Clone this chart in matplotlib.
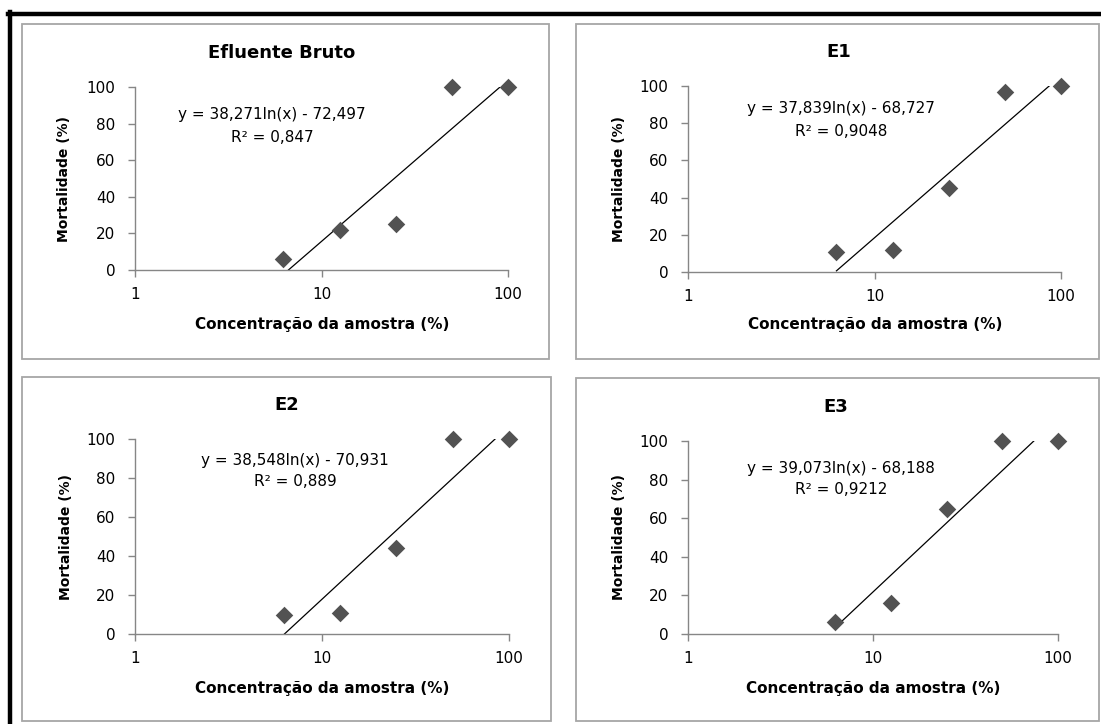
import matplotlib
matplotlib.use("Agg")
import matplotlib.pyplot as plt
from matplotlib.patches import Rectangle
from matplotlib.lines import Line2D
import numpy as np

# --- data ---
conc = [6.25, 12.5, 25, 50, 100]
titles = ["Efluente Bruto", "E1", "E2", "E3"]
mort_bruto = [6, 22, 25, 100, 100]
mort_e1 = [11, 12, 45, 97, 100]
mort_e2 = [10, 11, 44, 100, 100]
mort_e3 = [6, 16, 65, 100, 100]
mortality = [mort_bruto, mort_e1, mort_e2, mort_e3]
# trend line coefficients  y = a*ln(x) + b
slope = [38.271, 37.839, 38.548, 39.073]
intercept = [-72.497, -68.727, -70.931, -68.188]
r2_text = ["0,847", "0,9048", "0,889", "0,9212"]

W, H = 1101, 724
fig = plt.figure(figsize=(W / 100, H / 100), dpi=100)
fig.patch.set_facecolor("white")


def box(l, t, r, b):
    # pixel box -> figure fraction [left, bottom, width, height]
    return [l / W, 1 - b / H, (r - l) / W, (b - t) / H]


def ptext(x, y, s, **kw):
    fig.text(x / W, 1 - y / H, s, ha="center", va="center", **kw)


# outer black frame (top and left only)
fig.add_artist(Line2D([8 / W, 1], [1 - 13.5 / H, 1 - 13.5 / H], color="black", lw=3.2))
fig.add_artist(Line2D([9.5 / W, 9.5 / W], [0, 1 - 12 / H], color="black", lw=3.2))

# panel borders (l, t, r, b) in pixels
panels = [(22, 24, 549, 359), (576, 24, 1099, 359), (22, 377, 551, 721), (576, 378, 1099, 721)]
for l, t, r, b in panels:
    fig.add_artist(Rectangle((l / W, 1 - b / H), (r - l) / W, (b - t) / H,
                             transform=fig.transFigure, fill=False,
                             edgecolor="#a6a6a6", lw=1.3))

# plot areas in pixels
areas = [(135, 87, 508, 270), (688, 86, 1061, 272), (135, 439, 509, 634), (688, 441, 1058, 634)]
eq_pos = [(272, 115), (841, 109), (295, 460), (841, 468)]
title_pos = [(282, 53), (839, 52), (287, 405), (836, 407)]
xlab_pos = [(322, 325), (875, 325), (322, 688), (873, 688)]
ylab_pos = [(64, 179), (619, 179), (66, 537), (619, 537)]

axis_gray = "#868686"
for i in range(4):
    l, t, r, b = areas[i]
    ax = fig.add_axes(box(l, t, r, b))
    ax.set_xscale("log")
    ax.set_xlim(1, 100)
    ax.set_ylim(0, 100)
    ax.set_facecolor("none")
    for s in ["top", "right"]:
        ax.spines[s].set_visible(False)
    for s in ["left", "bottom"]:
        ax.spines[s].set_color(axis_gray)
        ax.spines[s].set_linewidth(1.0)
    ax.set_xticks([1, 10, 100])
    ax.set_xticklabels(["1", "10", "100"])
    ax.xaxis.set_minor_locator(matplotlib.ticker.NullLocator())
    ax.set_yticks([0, 20, 40, 60, 80, 100])
    ax.tick_params(axis="both", direction="out", length=5, width=1.0,
                   color=axis_gray, labelsize=11, labelcolor="black")
    ax.tick_params(axis="x", pad=7)
    ax.tick_params(axis="y", pad=9)

    xs = np.geomspace(conc[0], conc[-1], 200)
    ax.plot(xs, slope[i] * np.log(xs) + intercept[i], color="black", lw=0.9)
    ax.scatter(conc, mortality[i], marker="D", s=80, color="#525252",
               zorder=5, clip_on=False, linewidths=0)

    ptext(*title_pos[i], titles[i], fontsize=13, fontweight="bold")
    ptext(*xlab_pos[i], "Concentração da amostra (%)", fontsize=11, fontweight="bold")
    ptext(*ylab_pos[i], "Mortalidade (%)", fontsize=10, fontweight="bold", rotation=90)

    ex, ey = eq_pos[i]
    a_txt = f"{slope[i]:.3f}".replace(".", ",")
    b_txt = f"{-intercept[i]:.3f}".replace(".", ",")
    ptext(ex, ey, f"y = {a_txt}ln(x) - {b_txt}", fontsize=11)
    ptext(ex, ey + 22, f"R² = {r2_text[i]}", fontsize=11)

fig.savefig("out.png", dpi=100)
